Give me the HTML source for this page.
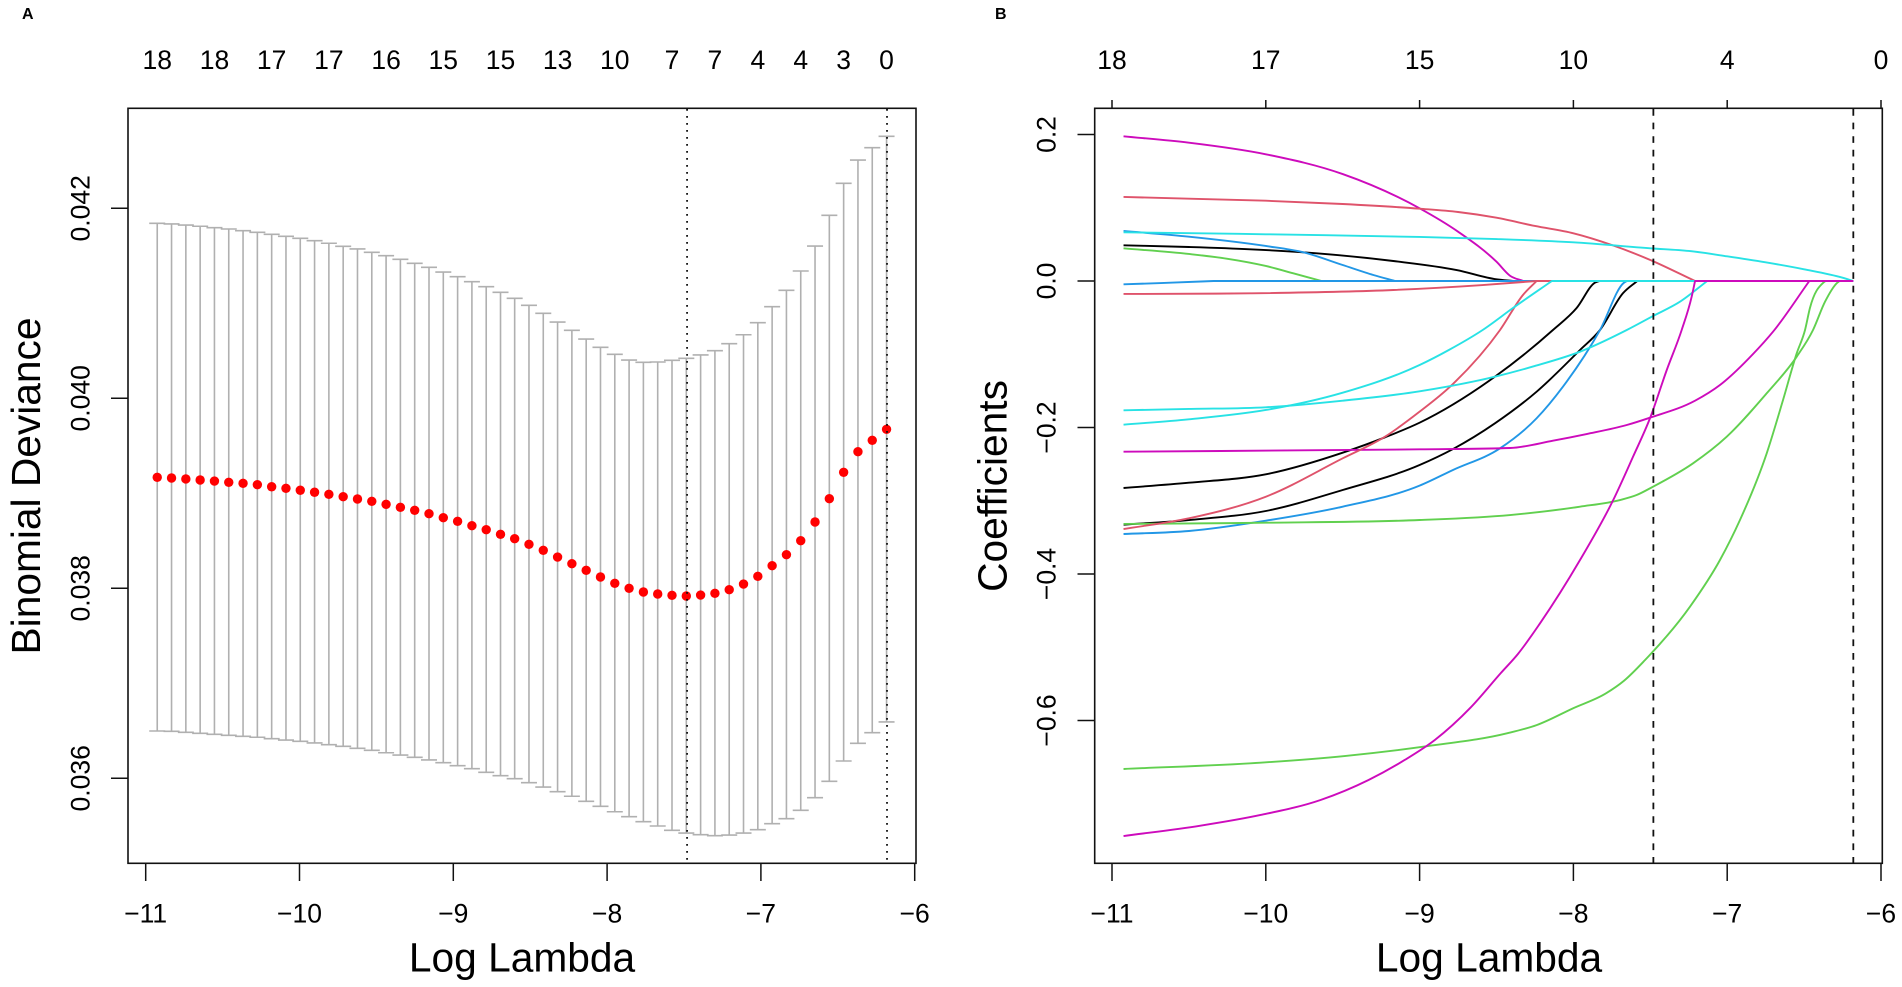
<!DOCTYPE html>
<html lang="en">
<head>
<meta charset="utf-8">
<title>LASSO cross-validation and coefficient paths</title>
<style>
html,body{margin:0;padding:0;background:#fff;width:1902px;height:987px;overflow:hidden}
svg{display:block;font-family:"Liberation Sans",Arial,sans-serif;fill:#000}
.num{font-size:26.5px}
.title{font-size:40.7px}
.panel{font-size:16px;font-weight:bold}
</style>
</head>
<body>
<svg id="chart" xmlns="http://www.w3.org/2000/svg" width="1902" height="987" viewBox="0 0 1902 987">
  <rect x="0" y="0" width="1902" height="987" fill="#fff"/>
  <text class="panel" x="22" y="19">A</text>
  <text class="panel" x="995" y="19">B</text>
  <g id="panelA"></g>
  <g id="panelB"></g>
  <rect x="128" y="108.3" width="788" height="755" fill="none" stroke="#111" stroke-width="1.6"/>
  <rect x="1094.7" y="108.3" width="787.6" height="755" fill="none" stroke="#111" stroke-width="1.6"/>
  <text class="title" x="522" y="971.5" text-anchor="middle">Log Lambda</text>
  <text class="title" x="1489" y="971.5" text-anchor="middle">Log Lambda</text>
  <text class="title" transform="translate(40,486) rotate(-90)" text-anchor="middle">Binomial Deviance</text>
  <text class="title" transform="translate(1006.5,486) rotate(-90)" text-anchor="middle">Coefficients</text>
</svg>
<script>
const xTickValues = [-11, -10, -9, -8, -7, -6];
const xTickLabels = ['\u221211', '\u221210', '\u22129', '\u22128', '\u22127', '\u22126'];

const cvYTickValues = [0.036, 0.038, 0.040, 0.042];
const cvYTickLabels = ['0.036', '0.038', '0.040', '0.042'];
const cvCountLabels = ['18','18','17','17','16','15','15','13','10','7','7','4','4','3','0'];
const cvCountIndex = [0,4,8,12,16,20,24,28,32,36,39,42,45,48,51];
const cvLogLambda = [-10.925,-10.832,-10.739,-10.646,-10.553,-10.460,-10.367,-10.274,-10.181,-10.088,-9.995,-9.902,-9.809,-9.716,-9.623,-9.530,-9.437,-9.344,-9.251,-9.158,-9.065,-8.972,-8.879,-8.786,-8.693,-8.601,-8.508,-8.415,-8.322,-8.229,-8.136,-8.043,-7.950,-7.857,-7.764,-7.671,-7.578,-7.485,-7.392,-7.299,-7.206,-7.113,-7.020,-6.927,-6.834,-6.741,-6.648,-6.555,-6.462,-6.369,-6.276,-6.183];
const cvMean = [0.039168,0.039161,0.039151,0.039140,0.039129,0.039116,0.039105,0.039091,0.039069,0.039053,0.039032,0.039011,0.038989,0.038964,0.038940,0.038916,0.038884,0.038853,0.038821,0.038785,0.038743,0.038705,0.038659,0.038617,0.038568,0.038522,0.038463,0.038400,0.038329,0.038259,0.038189,0.038119,0.038053,0.038000,0.037961,0.037940,0.037926,0.037919,0.037929,0.037947,0.037985,0.038045,0.038126,0.038238,0.038354,0.038501,0.038698,0.038943,0.039221,0.039438,0.039558,0.039674];
const cvUpper = [0.041842,0.041835,0.041824,0.041811,0.041796,0.041782,0.041764,0.041747,0.041726,0.041705,0.041684,0.041659,0.041632,0.041600,0.041572,0.041537,0.041501,0.041463,0.041421,0.041379,0.041329,0.041280,0.041227,0.041175,0.041116,0.041053,0.040979,0.040895,0.040803,0.040716,0.040624,0.040537,0.040463,0.040403,0.040379,0.040382,0.040400,0.040421,0.040456,0.040501,0.040575,0.040669,0.040796,0.040964,0.041137,0.041340,0.041603,0.041926,0.042263,0.042508,0.042638,0.042758];
const cvLower = [0.036498,0.036495,0.036484,0.036474,0.036463,0.036453,0.036442,0.036432,0.036417,0.036403,0.036389,0.036372,0.036354,0.036337,0.036316,0.036295,0.036269,0.036245,0.036221,0.036193,0.036164,0.036133,0.036101,0.036063,0.036027,0.035996,0.035954,0.035908,0.035859,0.035811,0.035758,0.035705,0.035648,0.035596,0.035543,0.035498,0.035453,0.035424,0.035406,0.035396,0.035403,0.035424,0.035459,0.035522,0.035575,0.035663,0.035796,0.035968,0.036182,0.036368,0.036480,0.036593];
const lambdaMinLog = -7.48;
const lambda1seLog = -6.18;

const coefYTickValues = [-0.6, -0.4, -0.2, 0, 0.2];
const coefYTickLabels = ['\u22120.6', '\u22120.4', '\u22120.2', '0.0', '0.2'];
const coefCountValues = [-11, -10, -9, -8, -7, -6];
const coefCountLabels = ['18','17','15','10','4','0'];

const magentaTopLog = [-10.925,-10.5,-10,-9.5,-9,-8.75,-8.5,-8.412,-8.326,-6.18];
const magentaTopCoef = [0.1975,0.1888,0.173,0.146,0.0992,0.0673,0.0263,0.0072,0,0];
const redTopLog = [-10.925,-10.5,-10,-9.5,-9,-8.75,-8.5,-8.25,-8,-7.75,-7.5,-7.209,-6.18];
const redTopCoef = [0.1147,0.1124,0.1096,0.1051,0.0987,0.0942,0.0864,0.0751,0.0651,0.0491,0.0287,0,0];
const blackTopLog = [-10.925,-10.5,-10.103,-9.669,-9.171,-8.759,-8.499,-8.393,-6.18];
const blackTopCoef = [0.0487,0.0464,0.0433,0.0378,0.0273,0.015,0.0023,0,0];
const greenTopLog = [-10.925,-10.5,-10.254,-10,-9.821,-9.637,-6.18];
const greenTopCoef = [0.0446,0.0369,0.0305,0.0205,0.0105,0,0];
const blueTopLog = [-10.925,-10.5,-10,-9.756,-9.5,-9.301,-9.16,-6.18];
const blueTopCoef = [0.0683,0.0605,0.0478,0.0392,0.0218,0.0082,0,0];
const blueSmallLog = [-10.925,-10.6,-10.34,-6.18];
const blueSmallCoef = [-0.0045,-0.0022,0,0];
const blackMidLog = [-10.925,-10.5,-10,-9.5,-9.225,-9,-8.51,-8.133,-7.979,-7.86,-7.83,-6.18];
const blackMidCoef = [-0.2826,-0.2754,-0.2639,-0.2344,-0.2134,-0.1934,-0.1306,-0.0669,-0.0369,-0.0023,0,0];
const blackLowLog = [-10.925,-10.5,-10,-9.5,-9,-8.783,-8.51,-8.239,-7.957,-7.827,-7.678,-7.585,-6.18];
const blackLowCoef = [-0.3327,-0.3263,-0.314,-0.2853,-0.2512,-0.2294,-0.1943,-0.1511,-0.0942,-0.0669,-0.0168,0,0];
const blueLowLog = [-10.925,-10.5,-10,-9.5,-9,-8.783,-8.477,-8.239,-8.068,-7.827,-7.671,-7.652,-6.18];
const blueLowCoef = [-0.3454,-0.3413,-0.3272,-0.3081,-0.2794,-0.258,-0.2284,-0.1874,-0.1443,-0.0669,-0.0023,0,0];
const greenMidLog = [-10.925,-10,-9,-8.412,-7.957,-7.697,-7.589,-7.482,-7.222,-7.003,-6.743,-6.548,-6.442,-6.364,-6.284,-6.27,-6.18];
const greenMidCoef = [-0.3317,-0.33,-0.3263,-0.3195,-0.3081,-0.299,-0.2922,-0.2808,-0.2489,-0.2126,-0.1533,-0.1033,-0.0669,-0.0283,-0.0023,0,0];
const greenLowLog = [-10.925,-10.034,-9.488,-8.941,-8.432,-8.237,-8.003,-7.788,-7.671,-7.534,-7.242,-7.047,-6.917,-6.743,-6.637,-6.548,-6.494,-6.462,-6.375,-6.36,-6.18];
const greenLowCoef = [-0.6662,-0.6576,-0.6485,-0.6348,-0.6175,-0.6061,-0.5834,-0.5629,-0.5457,-0.5174,-0.4446,-0.3809,-0.3263,-0.2352,-0.1625,-0.0987,-0.0669,-0.0369,-0.0023,0,0];
const magentaMidLog = [-10.925,-9,-8.412,-8.133,-7.914,-7.653,-7.502,-7.209,-7.047,-6.832,-6.702,-6.466,-6.18];
const magentaMidCoef = [-0.233,-0.2298,-0.228,-0.218,-0.2089,-0.1966,-0.1866,-0.1634,-0.142,-0.0997,-0.0692,0,0];
const redSmallLog = [-10.925,-10.103,-9.171,-8.59,-8.24,-6.18];
const redSmallCoef = [-0.0177,-0.0168,-0.0123,-0.0055,0,0];
const redLowLog = [-10.925,-10.5,-10,-9.5,-9.225,-9,-8.802,-8.477,-8.328,-8.239,-6.18];
const redLowCoef = [-0.3386,-0.324,-0.2945,-0.2421,-0.2126,-0.1784,-0.1443,-0.0669,-0.0191,0,0];
const cyanTopLog = [-10.925,-10,-9,-8.5,-8,-7.5,-7.25,-7,-6.75,-6.5,-6.25,-6.18];
const cyanTopCoef = [0.0665,0.0638,0.0601,0.0573,0.0528,0.0446,0.041,0.0337,0.0255,0.016,0.0045,0];
const cyanFlatLog = [-10.925,-10.5,-10,-9.5,-9,-8.51,-8.25,-7.957,-7.653,-7.482,-7.307,-7.13,-6.18];
const cyanFlatCoef = [-0.1765,-0.1747,-0.1724,-0.1634,-0.1506,-0.1306,-0.116,-0.0965,-0.0669,-0.0478,-0.0283,0,0];
const cyanSteepLog = [-10.925,-10.5,-10,-9.5,-9,-8.81,-8.59,-8.393,-8.14,-6.18];
const cyanSteepCoef = [-0.1962,-0.1888,-0.1761,-0.1525,-0.1147,-0.0942,-0.0669,-0.0369,0,0];
const magentaLowLog = [-10.925,-10.425,-10.034,-9.644,-9.332,-9.097,-8.901,-8.667,-8.471,-8.36,-8.217,-7.957,-7.741,-7.612,-7.502,-7.393,-7.296,-7.231,-7.209,-6.18];
const magentaLowCoef = [-0.7577,-0.7436,-0.729,-0.7085,-0.6812,-0.6539,-0.6266,-0.582,-0.535,-0.509,-0.4673,-0.3809,-0.299,-0.2398,-0.1874,-0.1215,-0.0669,-0.0214,0,0];

const paletteBlack = '#000000';
const paletteRed = '#DF536B';
const paletteGreen = '#61D04F';
const paletteBlue = '#2297E6';
const paletteCyan = '#28E2E5';
const paletteMagenta = '#CD0BBC';

const coefficientSeries = [
  ['magenta-top', magentaTopLog, magentaTopCoef, paletteMagenta],
  ['red-top', redTopLog, redTopCoef, paletteRed],
  ['black-top', blackTopLog, blackTopCoef, paletteBlack],
  ['green-top', greenTopLog, greenTopCoef, paletteGreen],
  ['blue-top', blueTopLog, blueTopCoef, paletteBlue],
  ['blue-small', blueSmallLog, blueSmallCoef, paletteBlue],
  ['black-mid', blackMidLog, blackMidCoef, paletteBlack],
  ['black-low', blackLowLog, blackLowCoef, paletteBlack],
  ['blue-low', blueLowLog, blueLowCoef, paletteBlue],
  ['green-mid', greenMidLog, greenMidCoef, paletteGreen],
  ['green-low', greenLowLog, greenLowCoef, paletteGreen],
  ['magenta-mid', magentaMidLog, magentaMidCoef, paletteMagenta],
  ['red-small', redSmallLog, redSmallCoef, paletteRed],
  ['red-low', redLowLog, redLowCoef, paletteRed],
  ['cyan-top', cyanTopLog, cyanTopCoef, paletteCyan],
  ['cyan-flat', cyanFlatLog, cyanFlatCoef, paletteCyan],
  ['cyan-steep', cyanSteepLog, cyanSteepCoef, paletteCyan],
  ['magenta-low', magentaLowLog, magentaLowCoef, paletteMagenta]
];

const NS = 'http://www.w3.org/2000/svg';
const panelA = document.getElementById('panelA');
const panelB = document.getElementById('panelB');
const xA = l => 145.7 + 153.8 * (l + 11);
const yA = v => 588.3 - (v - 0.038) * 95000;
const xB = l => 1112 + 153.8 * (l + 11);
const yB = c => 281 - 732.5 * c;

function line(parent, x1, y1, x2, y2, stroke, width, dash) {
  const el = document.createElementNS(NS, 'line');
  el.setAttribute('x1', x1);
  el.setAttribute('y1', y1);
  el.setAttribute('x2', x2);
  el.setAttribute('y2', y2);
  el.setAttribute('stroke', stroke);
  el.setAttribute('stroke-width', width);
  if (dash) el.setAttribute('stroke-dasharray', dash);
  parent.appendChild(el);
  return el;
}
function label(parent, x, y, str, rotate) {
  const el = document.createElementNS(NS, 'text');
  el.setAttribute('class', 'num');
  el.setAttribute('text-anchor', 'middle');
  if (rotate) el.setAttribute('transform', 'translate(' + x + ',' + y + ') rotate(-90)');
  else { el.setAttribute('x', x); el.setAttribute('y', y); }
  el.textContent = str;
  parent.appendChild(el);
  return el;
}
/* Clamped cubic path through the knots up to the first zero, then straight along zero. */
function smoothPath(logs, coefs) {
  const px = logs.map(xB);
  const py = coefs.map(yB);
  let k = coefs.indexOf(0);
  if (k < 1) k = px.length - 1;
  const sec = [];
  const wid = [];
  for (let i = 0; i < k; i++) {
    wid.push(px[i + 1] - px[i]);
    sec.push((py[i + 1] - py[i]) / wid[i]);
  }
  const tan = [sec[0]];
  for (let i = 1; i < k; i++) {
    if (sec[i - 1] * sec[i] <= 0) { tan.push(0); continue; }
    const t = (sec[i - 1] * wid[i] + sec[i] * wid[i - 1]) / (wid[i - 1] + wid[i]);
    const lim = 2.5 * Math.min(Math.abs(sec[i - 1]), Math.abs(sec[i]));
    tan.push(Math.sign(t) * Math.min(Math.abs(t), lim));
  }
  tan.push(sec[k - 1]);
  let d = 'M' + px[0].toFixed(2) + ' ' + py[0].toFixed(2);
  for (let i = 0; i < k; i++) {
    const h = wid[i] / 3;
    d += ' C' + (px[i] + h).toFixed(2) + ' ' + (py[i] + tan[i] * h).toFixed(2) + ' ' +
         (px[i + 1] - h).toFixed(2) + ' ' + (py[i + 1] - tan[i + 1] * h).toFixed(2) + ' ' +
         px[i + 1].toFixed(2) + ' ' + py[i + 1].toFixed(2);
  }
  for (let i = k + 1; i < px.length; i++) d += ' L' + px[i].toFixed(2) + ' ' + py[i].toFixed(2);
  return d;
}

/* Panel A: error bars */
cvLogLambda.forEach((l, i) => {
  const x = xA(l);
  const bar = line(panelA, x, yA(cvUpper[i]), x, yA(cvLower[i]), '#b0b0b0', 1.6);
  
  
  const capU = line(panelA, x - 8, yA(cvUpper[i]), x + 8, yA(cvUpper[i]), '#b0b0b0', 1.6);
  
  
  const capL = line(panelA, x - 8, yA(cvLower[i]), x + 8, yA(cvLower[i]), '#b0b0b0', 1.6);
  
  
});
/* Panel A: mean points */
cvLogLambda.forEach((l, i) => {
  const dot = document.createElementNS(NS, 'circle');
  dot.setAttribute('cx', xA(l));
  dot.setAttribute('cy', yA(cvMean[i]));
  dot.setAttribute('r', 4.7);
  dot.setAttribute('fill', '#ff0000');
  
  
  panelA.appendChild(dot);
});
/* Panel A: reference lines */
[lambdaMinLog, lambda1seLog].forEach(l => {
  const ref = line(panelA, xA(l), 109, xA(l), 860, '#111', 1.8, '1.8 5.2');
  
  
});
/* Panel A: axes */
xTickValues.forEach((t, i) => {
  const tick = line(panelA, xA(t), 863.3, xA(t), 881, '#111', 1.5);
  
  
  const txt = label(panelA, xA(t), 922.5, xTickLabels[i]);
  
  
});
cvYTickValues.forEach((t, i) => {
  const tick = line(panelA, 111, yA(t), 128, yA(t), '#111', 1.5);
  
  
  const txt = label(panelA, 89.5, yA(t), cvYTickLabels[i], true);
  
  
});
cvCountIndex.forEach((idx, i) => {
  const txt = label(panelA, xA(cvLogLambda[idx]), 69, cvCountLabels[i]);
  
  
});

/* Panel B: coefficient paths */
coefficientSeries.forEach(s => {
  const path = document.createElementNS(NS, 'path');
  path.setAttribute('d', smoothPath(s[1], s[2]));
  path.setAttribute('fill', 'none');
  path.setAttribute('stroke', s[3]);
  path.setAttribute('stroke-width', 1.9);
  path.setAttribute('stroke-linejoin', 'round');
  
  
  panelB.appendChild(path);
});
/* Panel B: reference lines */
[lambdaMinLog, lambda1seLog].forEach(l => {
  const ref = line(panelB, xB(l), 109, xB(l), 863, '#111', 1.8, '6.7 6.9');
  
  
});
/* Panel B: axes */
xTickValues.forEach((t, i) => {
  const tick = line(panelB, xB(t), 863.3, xB(t), 881, '#111', 1.5);
  
  
  const txt = label(panelB, xB(t), 922.5, xTickLabels[i]);
  
  
});
coefYTickValues.forEach((t, i) => {
  const tick = line(panelB, 1077.5, yB(t), 1094.7, yB(t), '#111', 1.5);
  
  
  const txt = label(panelB, 1055.5, yB(t), coefYTickLabels[i], true);
  
  
});
coefCountValues.forEach((v, i) => {
  const tick = line(panelB, xB(v), 100, xB(v), 108.3, '#111', 1.5);
  
  
  const txt = label(panelB, xB(v), 69, coefCountLabels[i]);
  
  
});
</script>
</body>
</html>
